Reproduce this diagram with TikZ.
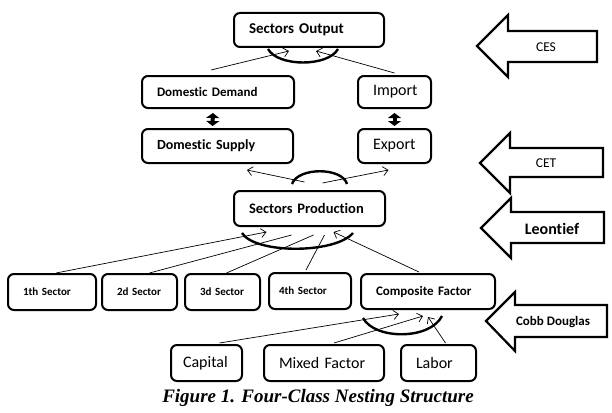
\documentclass[tikz,border=0pt]{standalone}
\usepackage{fontspec}
\setmainfont{Carlito}[Ligatures=NoCommon]
\newfontfamily\capfont{Liberation Serif}
\usetikzlibrary{arrows.meta}

\begin{document}
\begin{tikzpicture}[x=1pt,y=-1pt,
    box/.style={draw,line width=2pt,rounded corners=6pt,anchor=north west,inner xsep=15pt,inner ysep=0pt,align=left},
    link/.style={line width=0.7pt},
    tip/.style={link,-{Straight Barb[length=5pt,width=9pt]}},
    nest/.style={line width=2.4pt},
    swap/.style={line width=4pt,{Triangle[width=13pt,length=5pt]}-{Triangle[width=13pt,length=5pt]}},
    fat/.style={draw,line width=2.2pt,miter limit=20}]
\useasboundingbox (0,0) rectangle (612,412);

% boxes
\node[box,text width=120pt,minimum height=34pt,font=\bfseries\fontsize{15}{17}\selectfont] (so) at (233,12) {Sectors Output};
\node[box,text width=122pt,minimum height=32pt,font=\bfseries\fontsize{13}{15}\selectfont] (dd) at (141,75) {Domestic Demand};
\node[box,text width=43pt,minimum height=32pt,font=\fontsize{16}{18}\selectfont] (imp) at (357,75) {Import};
\node[box,text width=121pt,minimum height=34pt,font=\bfseries\fontsize{14}{16}\selectfont] (ds) at (141,128) {Domestic Supply};
\node[box,text width=43pt,minimum height=34pt,font=\fontsize{16}{18}\selectfont] (exp) at (357,128) {Export};
\node[box,text width=121pt,minimum height=35pt,font=\bfseries\fontsize{14.5}{16}\selectfont] (sp) at (233,190) {Sectors Production};
\begin{scope}[every node/.append style={font=\bfseries\fontsize{11}{13}\selectfont,minimum height=36pt}]
    \node[box,text width=58pt] (s1) at (7,273) {1th Sector};
    \node[box,text width=45pt] (s2) at (101,273) {2d Sector};
    \node[box,text width=45pt] (s3) at (184,273) {3d Sector};
    \node[box,inner xsep=10pt,text width=62pt] (s4) at (268,272) {4th Sector};
\end{scope}
\node[box,text width=104pt,minimum height=35pt,font=\bfseries\fontsize{13}{15}\selectfont] (cf) at (360,273) {Composite Factor};
\begin{scope}[every node/.append style={font=\fontsize{16}{18}\selectfont,minimum height=36pt}]
    \node[box,text width=47pt,inner xsep=12pt] (cap) at (170,344) {Capital};
    \node[box,text width=90pt] (mix) at (263,344) {Mixed Factor};
    \node[box,text width=45pt] (lab) at (400,344) {Labor};
\end{scope}

% nesting arcs
\draw[nest] (268,49) .. controls (278,67) and (328,67) .. (338,49);
\draw[nest] (292,184) .. controls (298,167) and (342,167) .. (347,184);
\draw[nest] (242,233) .. controls (255,254) and (335,254) .. (353,233);
\draw[nest] (363,318) .. controls (375,340) and (430,340) .. (442,316);

% links
\draw[tip] ([shift={(-7,-5)}]dd.north) -- ([shift={(-20,3)}]so.south);
\draw[tip] ([shift={(0,-2)}]imp.north) -- ([shift={(7,3)}]so.south);
\draw[swap,shorten <=4pt,shorten >=2pt] ([xshift=-5pt]dd.south) -- ([xshift=-5pt]ds.north);
\draw[swap,shorten <=4pt,shorten >=2pt] (imp.south) -- (exp.north);
\draw[tip] ([shift={(-5,-8)}]sp.north) -- ([shift={(-47,6)}]ds.south east);
\draw[tip] ([shift={(13,-7)}]sp.north) -- ([shift={(-6,6)}]exp.south);
\draw[tip] ([xshift=4pt]s1.north) -- ([shift={(-43,5)}]sp.south);
\draw[link] ([xshift=10pt]s2.north) -- ([shift={(-18,8)}]sp.south);
\draw[link] ([xshift=4pt]s3.north) -- ([shift={(4,8)}]sp.south);
\draw[link] ([shift={(-4,-2)}]s4.north) -- ([shift={(15,8)}]sp.south);
\draw[tip] ([shift={(-9,-1)}]cf.north) -- ([shift={(24,5)}]sp.south);
\draw[tip] ([shift={(13,-1)}]cap.north) -- ([shift={(-29,4)}]cf.south);
\draw[tip] ([shift={(10,-1)}]mix.north) -- ([shift={(-5,6)}]cf.south);
\draw[tip] ([shift={(7,-1)}]lab.north) -- ([shift={(0,7)}]cf.south);

% function arrows
\draw[fat] (477,46) -- (508,15) -- (508,31) -- (597,31) -- (597,62) -- (508,62) -- (508,77) -- cycle;
\draw[fat] (480,163) -- (510,133) -- (510,148) -- (603,148) -- (603,177) -- (510,177) -- (510,193) -- cycle;
\draw[fat] (481,228) -- (511,198) -- (511,212) -- (604,212) -- (604,243) -- (511,243) -- (511,258) -- cycle;
\draw[fat] (486,321) -- (515,292) -- (515,305) -- (607,305) -- (607,337) -- (515,337) -- (515,351) -- cycle;
\node[font=\fontsize{13.5}{15}\selectfont] (ces) at (546,47) {CES};
\node[font=\fontsize{13.5}{15}\selectfont] (cet) at (546,163) {CET};
\node[font=\bfseries\fontsize{16}{18}\selectfont] (leo) at (552,229) {Leontief};
\node[font=\bfseries\fontsize{13}{15}\selectfont] (cobb) at (553,322) {Cobb Douglas};

\node[font=\capfont\bfseries\itshape\fontsize{19}{21}\selectfont] (fig) at (318,398) {Figure 1. Four-Class Nesting Structure};
\end{tikzpicture}
\end{document}
